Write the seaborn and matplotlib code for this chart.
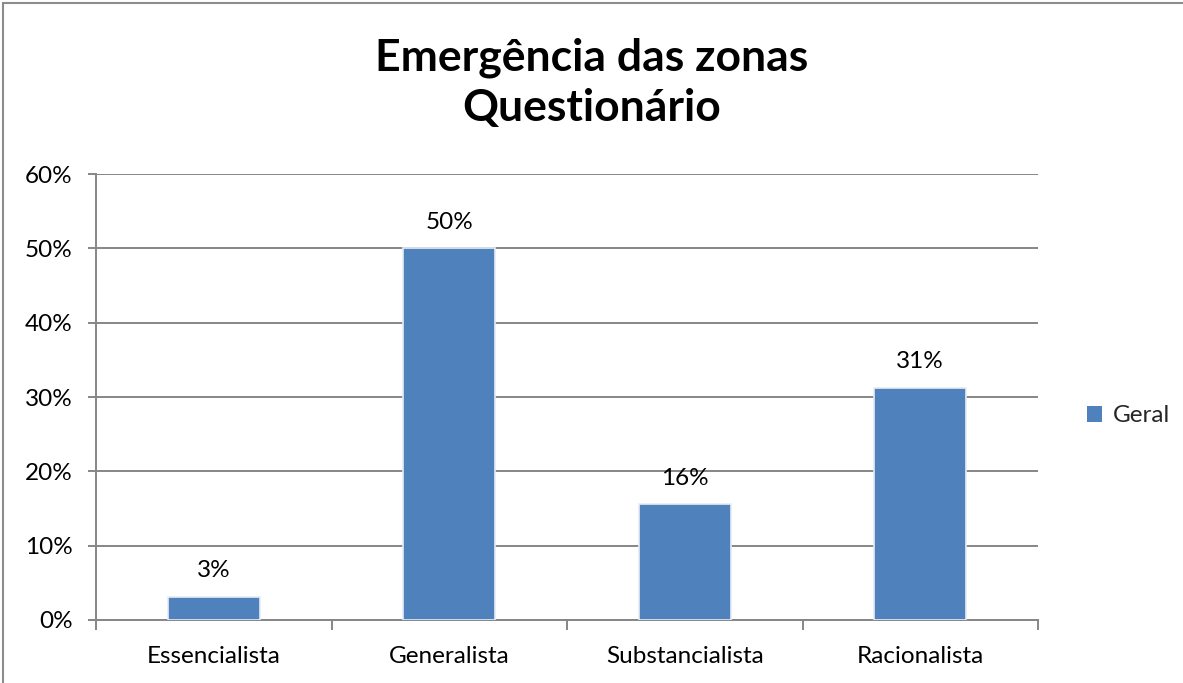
import matplotlib
matplotlib.use("Agg")
import matplotlib.pyplot as plt
import seaborn as sns
import pandas as pd
import numpy as np
from matplotlib.lines import Line2D
from matplotlib.patches import Patch
from matplotlib.ticker import PercentFormatter, FixedLocator

categories = ["Essencialista", "Generalista", "Substancialista", "Racionalista"]
values = [3.125, 50.0, 15.625, 31.25]
series_name = "Geral"
title_lines = ["Emergência das zonas", "Questionário"]

sns.set_theme(style="white")
plt.rcParams["font.family"] = ["Lato", "DejaVu Sans"]

df = pd.DataFrame({"Categoria": categories, "Valor": values, "Serie": series_name})

W, H = 1183, 683
fig = plt.figure(figsize=(W / 100, H / 100), dpi=100)
ax = fig.add_axes([96 / W, 1 - 620 / H, (1038 - 96) / W, (620 - 174) / H])

bar_color = "#4F81BD"
grid_color = "#868686"
fs = 17.5

sns.barplot(data=df, x="Categoria", y="Valor", color=bar_color, width=0.39,
            saturation=1, edgecolor="#E6ECF5", linewidth=1.2, ax=ax, zorder=3)

ax.set_ylim(0, 60)
ax.set_xlim(-0.5, len(categories) - 0.5)
ax.yaxis.set_major_locator(FixedLocator(np.arange(0, 61, 10)))
ax.yaxis.set_major_formatter(PercentFormatter(decimals=0))
ax.grid(axis="y", color=grid_color, linewidth=1.4, zorder=0)
ax.set_axisbelow(True)
ax.set_xlabel("")
ax.set_ylabel("")

for s in ["top", "right"]:
    ax.spines[s].set_visible(False)
for s in ["left", "bottom"]:
    ax.spines[s].set_color(grid_color)
    ax.spines[s].set_linewidth(1.4)

ax.tick_params(axis="y", which="major", length=6, width=1.4, color=grid_color,
               labelsize=fs, labelcolor="black", pad=11, direction="out", left=True)
ax.tick_params(axis="x", which="major", length=0, labelsize=fs, labelcolor="black", pad=19)
ax.set_xticks(np.arange(-0.5, len(categories), 1.0), minor=True)
ax.tick_params(axis="x", which="minor", length=7, width=1.4, color=grid_color,
               direction="out", bottom=True)

for c in ax.containers:
    ax.bar_label(c, labels=[f"{round(v):.0f}%" for v in values], padding=11,
                 fontsize=fs, color="black")

ax.legend(handles=[Patch(facecolor=bar_color, edgecolor="none", label=series_name)],
          loc="center left", bbox_to_anchor=(1075 / W, 1 - 416 / H),
          bbox_transform=fig.transFigure, frameon=False, fontsize=fs,
          handlelength=0.6, handleheight=0.6, handletextpad=0.45, borderpad=0)

fig.text(0.5, 1 - 58 / H, title_lines[0], ha="center", va="center",
         fontsize=32, fontweight="bold", color="black")
fig.text(0.5, 1 - 108 / H, title_lines[1], ha="center", va="center",
         fontsize=32, fontweight="bold", color="black")

fig.add_artist(Line2D([3 / W, 3 / W], [0, 1 - 3 / H], transform=fig.transFigure,
                      color="#8C8C8C", linewidth=1.5))
fig.add_artist(Line2D([3 / W, 1], [1 - 3 / H, 1 - 3 / H], transform=fig.transFigure,
                      color="#8C8C8C", linewidth=1.5))

fig.savefig("out.png", dpi=100, facecolor="white")
